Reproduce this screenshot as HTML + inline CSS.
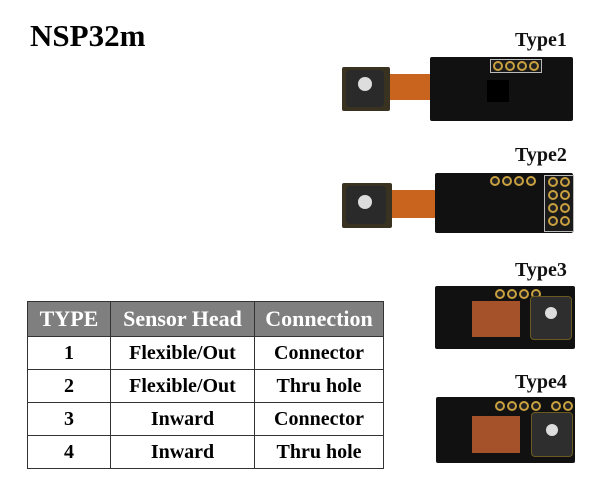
<!DOCTYPE html>
<html><head><style>
body{margin:0;width:600px;height:493px;background:#fff;position:relative;overflow:hidden;font-family:"Liberation Serif",serif;font-weight:bold}
.a{position:absolute}
.t{font-size:20px;color:#111}
table{position:absolute;left:27px;top:301px;width:357px;border-collapse:collapse;font-size:20px}
td,th{border:1.5px solid #333;text-align:center;padding:0;height:32px}
th{background:#7f7f7f;color:#fff;font-size:22px;height:34px}
.pcb{background:#111;border-radius:2px}
.pad{position:absolute;width:10px;height:10px;border-radius:50%;border:2px solid #c8a040;box-sizing:border-box;background:#222}
</style></head><body>
<div class="a" style="left:30px;top:18px;font-size:31px">NSP32m</div>
<div class="a t" style="left:515px;top:29px">Type1</div>
<div class="a t" style="left:515px;top:144px">Type2</div>
<div class="a t" style="left:515px;top:259px">Type3</div>
<div class="a t" style="left:515px;top:371px">Type4</div>

<!-- Type1 -->
<div class="a" style="left:388px;top:74px;width:52px;height:26px;background:#c8641e"></div>
<div class="a pcb" style="left:430px;top:57px;width:143px;height:64px"></div>
<div class="a" style="left:490px;top:59px;width:50px;height:12px;border:1px solid #bbb;background:#1a1a1a"></div>
<div class="pad" style="left:493px;top:61px"></div><div class="pad" style="left:505px;top:61px"></div><div class="pad" style="left:517px;top:61px"></div><div class="pad" style="left:529px;top:61px"></div>
<div class="a" style="left:487px;top:80px;width:22px;height:22px;background:#000"></div>
<div class="a pcb" style="left:342px;top:67px;width:48px;height:44px;background:#3a3220"></div>
<div class="a" style="left:346px;top:70px;width:38px;height:37px;background:#2a2a2a;border-radius:4px"></div>
<div class="a" style="left:358px;top:77px;width:14px;height:14px;background:#ddd;border-radius:50%"></div>

<!-- Type2 -->
<div class="a" style="left:390px;top:190px;width:50px;height:28px;background:#c8641e"></div>
<div class="a pcb" style="left:435px;top:173px;width:138px;height:60px"></div>
<div class="a" style="left:544px;top:175px;width:28px;height:55px;border:1px solid #bbb;background:#1a1a1a"></div>
<div class="pad" style="left:548px;top:177px"></div><div class="pad" style="left:560px;top:177px"></div>
<div class="pad" style="left:548px;top:190px"></div><div class="pad" style="left:560px;top:190px"></div>
<div class="pad" style="left:548px;top:203px"></div><div class="pad" style="left:560px;top:203px"></div>
<div class="pad" style="left:548px;top:216px"></div><div class="pad" style="left:560px;top:216px"></div>
<div class="pad" style="left:490px;top:176px"></div><div class="pad" style="left:502px;top:176px"></div><div class="pad" style="left:514px;top:176px"></div><div class="pad" style="left:526px;top:176px"></div>
<div class="a pcb" style="left:342px;top:183px;width:50px;height:45px;background:#3a3220"></div>
<div class="a" style="left:346px;top:186px;width:40px;height:38px;background:#2a2a2a;border-radius:4px"></div>
<div class="a" style="left:358px;top:195px;width:14px;height:14px;background:#ddd;border-radius:50%"></div>

<!-- Type3 -->
<div class="a pcb" style="left:435px;top:286px;width:140px;height:63px"></div>
<div class="pad" style="left:495px;top:289px"></div><div class="pad" style="left:507px;top:289px"></div><div class="pad" style="left:519px;top:289px"></div><div class="pad" style="left:531px;top:289px"></div>
<div class="a" style="left:472px;top:301px;width:48px;height:36px;background:#a5522a"></div>
<div class="a" style="left:530px;top:296px;width:40px;height:42px;background:#2e2e2e;border-radius:4px;border:1px solid #6a5a20"></div>
<div class="a" style="left:545px;top:307px;width:12px;height:12px;background:#ddd;border-radius:50%"></div>

<!-- Type4 -->
<div class="a pcb" style="left:436px;top:397px;width:139px;height:66px"></div>
<div class="pad" style="left:495px;top:401px"></div><div class="pad" style="left:507px;top:401px"></div><div class="pad" style="left:519px;top:401px"></div><div class="pad" style="left:531px;top:401px"></div><div class="pad" style="left:551px;top:401px"></div><div class="pad" style="left:563px;top:401px"></div>
<div class="a" style="left:472px;top:416px;width:48px;height:37px;background:#a5522a"></div>
<div class="a" style="left:531px;top:412px;width:40px;height:43px;background:#2e2e2e;border-radius:4px;border:1px solid #6a5a20"></div>
<div class="a" style="left:546px;top:424px;width:12px;height:12px;background:#ddd;border-radius:50%"></div>

<table>
<tr><th style="width:82px">TYPE</th><th style="width:143px">Sensor Head</th><th>Connection</th></tr>
<tr><td>1</td><td>Flexible/Out</td><td>Connector</td></tr>
<tr><td>2</td><td>Flexible/Out</td><td>Thru hole</td></tr>
<tr><td>3</td><td>Inward</td><td>Connector</td></tr>
<tr><td>4</td><td>Inward</td><td>Thru hole</td></tr>
</table>
</body></html>
